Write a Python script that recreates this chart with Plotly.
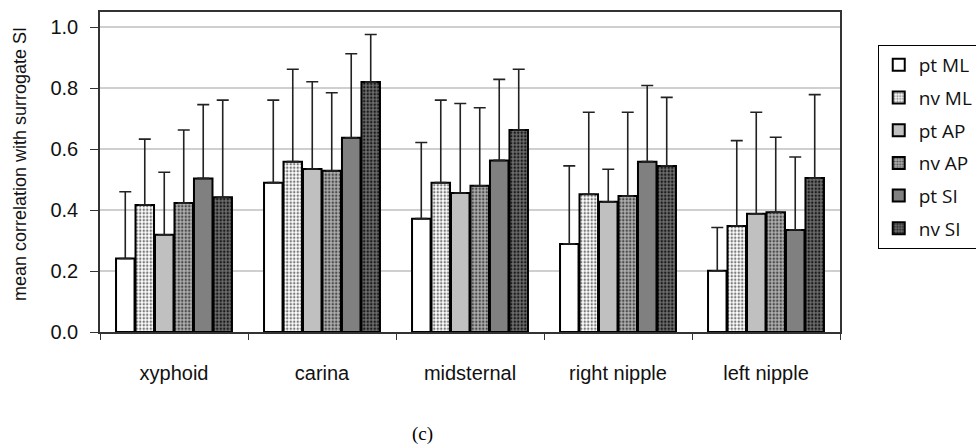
import plotly.graph_objects as go

# Anatomical sites on the x axis
sites = ["xyphoid", "carina", "midsternal", "right nipple", "left nipple"]

# Mean correlation with surrogate SI, one list per series
pt_ml = [0.241, 0.490, 0.372, 0.289, 0.201]
nv_ml = [0.417, 0.559, 0.490, 0.452, 0.348]
pt_ap = [0.319, 0.535, 0.456, 0.427, 0.388]
nv_ap = [0.423, 0.529, 0.480, 0.446, 0.393]
pt_si = [0.504, 0.637, 0.563, 0.559, 0.335]
nv_si = [0.442, 0.820, 0.663, 0.545, 0.505]

# Upper end of each error bar (mean + SD)
pt_ml_top = [0.460, 0.761, 0.622, 0.545, 0.343]
nv_ml_top = [0.633, 0.862, 0.761, 0.721, 0.628]
pt_ap_top = [0.524, 0.821, 0.750, 0.534, 0.721]
nv_ap_top = [0.663, 0.785, 0.736, 0.721, 0.639]
pt_si_top = [0.746, 0.913, 0.829, 0.809, 0.574]
nv_si_top = [0.761, 0.976, 0.862, 0.770, 0.779]

series = [
    ("pt ML", pt_ml, pt_ml_top, "#ffffff", None),
    ("nv ML", nv_ml, nv_ml_top, "#ffffff", "#7a7a7a"),
    ("pt AP", pt_ap, pt_ap_top, "#c0c0c0", None),
    ("nv AP", nv_ap, nv_ap_top, "#b0b0b0", "#4a4a4a"),
    ("pt SI", pt_si, pt_si_top, "#808080", None),
    ("nv SI", nv_si, nv_si_top, "#6e6e6e", "#1a1a1a"),
]

fig = go.Figure()
for i, (name, vals, tops, bg, dots) in enumerate(series):
    marker = dict(color=bg, line=dict(color="#000000", width=2))
    if dots is not None:
        marker["pattern"] = dict(shape=".", fillmode="replace", bgcolor=bg,
                                 fgcolor=dots, size=3.5, solidity=0.4)
    fig.add_trace(go.Bar(
        name=name, x=sites, y=vals, marker=marker,
        legendgroup=f"g{i}",
        error_y=dict(type="data", symmetric=False,
                     array=[t - v for t, v in zip(tops, vals)],
                     arrayminus=[0] * len(vals),
                     color="#222222", thickness=1.6, width=6),
    ))

fig.update_layout(
    width=976, height=447,
    margin=dict(l=100, r=136, t=12, b=115, autoexpand=False),
    paper_bgcolor="white", plot_bgcolor="white",
    barmode="group", bargap=0.21, bargroupgap=0.05,
    font=dict(family="Liberation Sans, Arial, sans-serif", size=15, color="#111111"),
    showlegend=True,
    legend=dict(x=1.051, y=0.897, xanchor="left", yanchor="top",
                bordercolor="#000000", borderwidth=1, bgcolor="white",
                traceorder="grouped", tracegroupgap=5,
                font=dict(family="Open Sans, Liberation Sans, sans-serif", size=19),
                itemwidth=30),
    annotations=[
        dict(text="(c)", x=0.436, y=-0.319, xref="paper", yref="paper",
             showarrow=False, xanchor="center", yanchor="middle",
             font=dict(family="Liberation Serif, Times New Roman, serif",
                       size=19, color="#000000")),
        dict(text="mean correlation with surrogate SI", textangle=-90,
             x=-0.108, y=0.525, xref="paper", yref="paper",
             showarrow=False, xanchor="center", yanchor="middle",
             font=dict(size=18, color="#111111")),
    ],
)

fig.update_xaxes(
    type="category", tickson="boundaries", ticks="outside", ticklen=6,
    tickcolor="#333333", showline=True, linecolor="#333333", linewidth=1.5,
    mirror=True, showgrid=False, ticklabelstandoff=22,
    tickfont=dict(size=20),
)
fig.update_yaxes(
    range=[0, 1.05], tickvals=[0, 0.2, 0.4, 0.6, 0.8, 1.0],
    ticktext=["0.0", "0.2", "0.4", "0.6", "0.8", "1.0"],
    ticks="outside", ticklen=8, tickcolor="#333333",
    showline=True, linecolor="#333333", linewidth=1.5, mirror=True,
    showgrid=True, gridcolor="#cfcfcf", gridwidth=1.8, zeroline=False,
    tickfont=dict(size=20), ticklabelstandoff=8,
)

fig.write_html("out.html")
